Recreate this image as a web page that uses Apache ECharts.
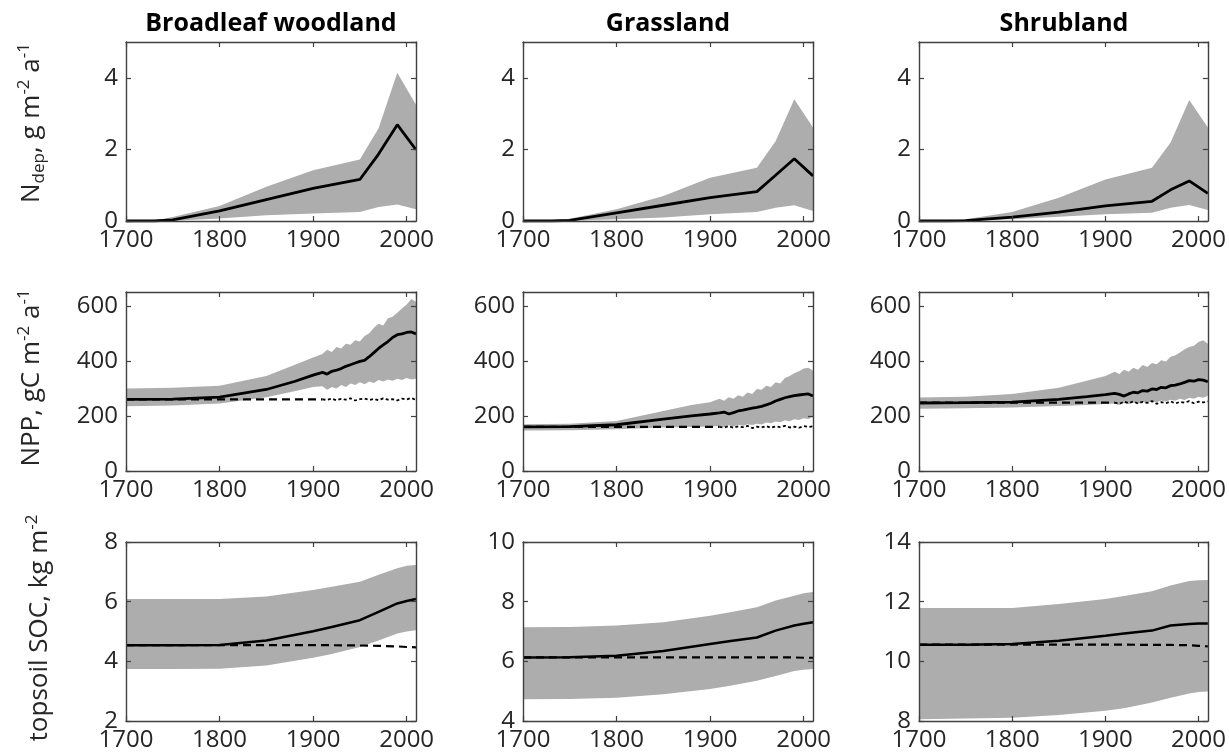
<!DOCTYPE html>
<html><head><meta charset="utf-8">
<script src="https://cdn.jsdelivr.net/npm/echarts@6/dist/echarts.min.js"></script>
<style>html,body{margin:0;padding:0;background:#fff}#c{width:1229px;height:756px}</style>
</head><body><div id="c"></div>
<script>
// ---------- DATA ----------
const columnTitles = ['Broadleaf woodland', 'Grassland', 'Shrubland'];
const xTickLabels = [1700, 1800, 1900, 2000];

// Row 1: N deposition
const ndepYears = [1700, 1730, 1750, 1800, 1850, 1900, 1950, 1970, 1990, 2010];
const ndepBroadMean  = [0, 0, 0.03, 0.28, 0.60, 0.91, 1.16, 1.87, 2.69, 1.99];
const ndepBroadUpper = [0, 0.01, 0.11, 0.42, 0.96, 1.42, 1.72, 2.59, 4.14, 3.25];
const ndepBroadLower = [0, 0, 0.01, 0.07, 0.16, 0.21, 0.25, 0.39, 0.46, 0.33];
const ndepGrassMean  = [0, 0, 0.02, 0.23, 0.44, 0.65, 0.82, 1.28, 1.74, 1.26];
const ndepGrassUpper = [0, 0.01, 0.06, 0.33, 0.70, 1.21, 1.49, 2.23, 3.40, 2.61];
const ndepGrassLower = [0, 0, 0.01, 0.05, 0.10, 0.19, 0.25, 0.37, 0.44, 0.28];
const ndepShrubMean  = [0, 0, 0.01, 0.11, 0.25, 0.42, 0.55, 0.87, 1.12, 0.77];
const ndepShrubUpper = [0, 0.01, 0.05, 0.25, 0.65, 1.16, 1.49, 2.19, 3.38, 2.61];
const ndepShrubLower = [0, 0, 0.01, 0.05, 0.12, 0.19, 0.23, 0.37, 0.45, 0.31];

// Row 2: NPP
const nppYears = [1700, 1750, 1800, 1850, 1880, 1900, 1910, 1915, 1920, 1925, 1930, 1935, 1940, 1945,
                  1950, 1955, 1960, 1965, 1970, 1975, 1980, 1985, 1990, 1995, 2000, 2005, 2010];
const nppBroadMean  = [260, 261, 268, 296, 325, 348, 358, 352, 362, 366, 372, 380, 386, 392,
                       398, 402, 415, 430, 445, 458, 470, 485, 495, 498, 503, 505, 498];
const nppBroadUpper = [300, 302, 310, 345, 385, 412, 425, 440, 432, 450, 445, 462, 458, 475,
                       470, 490, 500, 520, 535, 528, 555, 560, 575, 590, 605, 625, 615];
const nppBroadLower = [235, 238, 245, 268, 290, 305, 308, 295, 305, 300, 312, 305, 318, 312,
                       322, 315, 325, 320, 330, 325, 332, 328, 335, 330, 338, 332, 335];
const nppGrassMean  = [160, 161, 168, 188, 200, 207, 211, 214, 207, 212, 218, 221, 225, 228,
                       231, 235, 240, 246, 254, 260, 266, 270, 274, 276, 278, 280, 272];
const nppGrassUpper = [170, 172, 182, 218, 240, 250, 262, 255, 268, 262, 275, 270, 285, 280,
                       298, 295, 310, 305, 322, 318, 338, 345, 355, 362, 372, 375, 365];
const nppGrassLower = [147, 148, 152, 158, 160, 162, 163, 160, 166, 162, 168, 164, 170, 167,
                       172, 169, 176, 173, 180, 177, 184, 181, 188, 185, 192, 189, 196];
const nppShrubMean  = [247, 248, 250, 260, 270, 277, 282, 278, 272, 280, 286, 284, 292, 290,
                       298, 296, 304, 302, 310, 312, 316, 322, 328, 326, 332, 330, 324];
const nppShrubUpper = [267, 270, 280, 302, 328, 345, 360, 352, 368, 360, 375, 368, 385, 378,
                       392, 388, 402, 398, 415, 420, 430, 442, 450, 455, 468, 475, 462];
const nppShrubLower = [226, 228, 231, 236, 240, 243, 245, 240, 247, 242, 249, 244, 251, 246,
                       253, 249, 256, 252, 259, 255, 262, 258, 266, 262, 270, 266, 273];
// no-change baseline: dashed before 1910, dotted afterwards
const nppBaseYears = [1700, 1910];
const nppBroadBase = [260, 260];
const nppGrassBase = [160, 160];
const nppShrubBase = [248, 248];
const nppDotYears = [1910, 1915, 1920, 1925, 1930, 1935, 1940, 1945, 1950, 1955, 1960,
                     1965, 1970, 1975, 1980, 1985, 1990, 1995, 2000, 2005, 2010];
const nppBroadDot = [260, 258, 263, 257, 262, 259, 264, 256, 261, 263, 258, 262, 257, 264, 259, 261, 256, 263, 260, 265, 258];
const nppGrassDot = [160, 158, 163, 157, 162, 159, 164, 156, 161, 158, 163, 157, 162, 159, 164, 158, 161, 157, 163, 160, 162];
const nppShrubDot = [248, 244, 252, 246, 253, 245, 251, 247, 254, 244, 250, 246, 253, 245, 251, 248, 254, 246, 252, 249, 253];

// Row 3: topsoil SOC
const socYears = [1700, 1750, 1800, 1850, 1900, 1920, 1950, 1970, 1990, 2000, 2010];
const socBroadMean  = [4.54, 4.54, 4.55, 4.70, 5.01, 5.15, 5.38, 5.66, 5.94, 6.02, 6.09];
const socBroadUpper = [6.09, 6.09, 6.09, 6.17, 6.39, 6.50, 6.67, 6.90, 7.12, 7.20, 7.23];
const socBroadLower = [3.74, 3.74, 3.75, 3.86, 4.12, 4.25, 4.48, 4.70, 4.93, 5.00, 5.04];
const socBroadBase  = [4.54, 4.54, 4.54, 4.54, 4.54, 4.54, 4.53, 4.52, 4.50, 4.48, 4.47];
const socGrassMean  = [6.13, 6.14, 6.19, 6.35, 6.58, 6.67, 6.80, 7.03, 7.20, 7.26, 7.31];
const socGrassUpper = [7.14, 7.15, 7.20, 7.31, 7.53, 7.64, 7.81, 8.04, 8.20, 8.28, 8.32];
const socGrassLower = [4.73, 4.74, 4.78, 4.90, 5.07, 5.17, 5.35, 5.51, 5.68, 5.72, 5.74];
const socGrassBase  = [6.13, 6.13, 6.13, 6.13, 6.13, 6.13, 6.13, 6.13, 6.13, 6.12, 6.12];
const socShrubMean  = [10.56, 10.56, 10.58, 10.69, 10.86, 10.93, 11.03, 11.20, 11.25, 11.27, 11.27];
const socShrubUpper = [11.79, 11.79, 11.79, 11.92, 12.09, 12.19, 12.35, 12.54, 12.69, 12.72, 12.73];
const socShrubLower = [8.06, 8.08, 8.11, 8.20, 8.34, 8.43, 8.62, 8.78, 8.92, 8.97, 8.99];
const socShrubBase  = [10.56, 10.56, 10.56, 10.56, 10.56, 10.56, 10.55, 10.55, 10.54, 10.52, 10.50];

// axis ranges [min, max, interval]
const ndepRange = [0, 5, 2];
const nppRange = [0, 650, 200];
const socBroadRange = [2, 8, 2];
const socGrassRange = [4, 10, 2];
const socShrubRange = [8, 14, 2];
const xRange = [1700, 2010, 100];

// ---------- LAYOUT ----------
const colLeft = [126, 523, 919];
const rowTop = [42, 292, 542];
const plotW = 290, plotH = 179;
const FONT = 'Open Sans';
const TXT = '#262626';
const AX = '#404040';
const BAND = '#adadad';

const panels = [
  {r:0,c:0,yr:ndepRange,years:ndepYears,mean:ndepBroadMean,up:ndepBroadUpper,lo:ndepBroadLower,lw:2.8},
  {r:0,c:1,yr:ndepRange,years:ndepYears,mean:ndepGrassMean,up:ndepGrassUpper,lo:ndepGrassLower,lw:2.8},
  {r:0,c:2,yr:ndepRange,years:ndepYears,mean:ndepShrubMean,up:ndepShrubUpper,lo:ndepShrubLower,lw:2.8},
  {r:1,c:0,yr:nppRange,years:nppYears,mean:nppBroadMean,up:nppBroadUpper,lo:nppBroadLower,lw:2.8,
    baseX:nppBaseYears,base:nppBroadBase,dotX:nppDotYears,dot:nppBroadDot},
  {r:1,c:1,yr:nppRange,years:nppYears,mean:nppGrassMean,up:nppGrassUpper,lo:nppGrassLower,lw:2.8,
    baseX:nppBaseYears,base:nppGrassBase,dotX:nppDotYears,dot:nppGrassDot},
  {r:1,c:2,yr:nppRange,years:nppYears,mean:nppShrubMean,up:nppShrubUpper,lo:nppShrubLower,lw:2.8,
    baseX:nppBaseYears,base:nppShrubBase,dotX:nppDotYears,dot:nppShrubDot},
  {r:2,c:0,yr:socBroadRange,years:socYears,mean:socBroadMean,up:socBroadUpper,lo:socBroadLower,lw:2.5,
    baseX:socYears,base:socBroadBase},
  {r:2,c:1,yr:socGrassRange,years:socYears,mean:socGrassMean,up:socGrassUpper,lo:socGrassLower,lw:2.5,
    baseX:socYears,base:socGrassBase},
  {r:2,c:2,yr:socShrubRange,years:socYears,mean:socShrubMean,up:socShrubUpper,lo:socShrubLower,lw:2.5,
    baseX:socYears,base:socShrubBase}
];

const zip = (xs, ys) => xs.map((x, i) => [x, ys[i]]);
const grids = [], xAxes = [], yAxes = [], series = [];

panels.forEach((p, i) => {
  grids.push({left: colLeft[p.c], top: rowTop[p.r], width: plotW, height: plotH, containLabel: false});
  const tick = {show: true, inside: true, length: 5, lineStyle: {color: AX, width: 1.2}};
  const line = {show: true, onZero: false, lineStyle: {color: AX, width: 1.4}};
  const lbl = {color: TXT, fontFamily: FONT, fontSize: 24};
  xAxes.push({type: 'value', gridIndex: i, position: 'bottom', min: xRange[0], max: xRange[1], interval: xRange[2],
    axisLine: line, axisTick: tick, splitLine: {show: false}, z: 5,
    axisLabel: Object.assign({margin: 7, showMaxLabel: false, formatter: v => xTickLabels.indexOf(v) >= 0 ? String(v) : ''}, lbl)});
  xAxes.push({type: 'value', gridIndex: i, position: 'top', min: xRange[0], max: xRange[1], interval: xRange[2],
    axisLine: line, axisTick: tick, splitLine: {show: false}, axisLabel: {show: false}, z: 5});
  const showMax = p.r === 2;
  yAxes.push({type: 'value', gridIndex: i, position: 'left', min: p.yr[0], max: p.yr[1], interval: p.yr[2],
    axisLine: line, axisTick: tick, splitLine: {show: false}, z: 5,
    axisLabel: Object.assign({margin: 8, showMaxLabel: showMax, formatter: v => String(v)}, lbl)});
  yAxes.push({type: 'value', gridIndex: i, position: 'right', min: p.yr[0], max: p.yr[1], interval: p.yr[2],
    axisLine: line, axisTick: tick, splitLine: {show: false}, axisLabel: {show: false}, z: 5});

  const xi = 2 * i, yi = 2 * i;
  // uncertainty band: polygon through upper values then back through lower values
  const bandData = p.years.map((x, k) => [x, p.lo[k], p.up[k]]);
  series.push({type: 'custom', xAxisIndex: xi, yAxisIndex: yi, silent: true, z: 1,
    encode: {x: 0, y: [1, 2]}, data: bandData,
    renderItem: (params, api) => {
      if (params.dataIndex !== 0) return null;
      const pts = [];
      bandData.forEach(d => pts.push(api.coord([d[0], d[2]])));
      for (let k = bandData.length - 1; k >= 0; k--) pts.push(api.coord([bandData[k][0], bandData[k][1]]));
      return {type: 'polygon', shape: {points: pts}, style: {fill: BAND, stroke: null}};
    }});
  if (p.base) {
    series.push({type: 'line', xAxisIndex: xi, yAxisIndex: yi, symbol: 'none', silent: true,
      lineStyle: {color: '#000', width: 2.2, type: [8, 5]}, data: zip(p.baseX, p.base), z: 2});
  }
  if (p.dot) {
    series.push({type: 'line', xAxisIndex: xi, yAxisIndex: yi, symbol: 'none', silent: true,
      lineStyle: {color: '#000', width: 1.8, type: [3, 2.5]}, data: zip(p.dotX, p.dot), z: 2});
  }
  series.push({type: 'line', xAxisIndex: xi, yAxisIndex: yi, symbol: 'none', silent: true,
    lineStyle: {color: '#000', width: p.lw}, data: zip(p.years, p.mean), z: 3});
});

const yLabRich = {
  n: {fontFamily: FONT, fontSize: 26, color: TXT, lineHeight: 32},
  sup: {fontFamily: FONT, fontSize: 17, color: TXT, lineHeight: 18, verticalAlign: 'top'},
  sub: {fontFamily: FONT, fontSize: 17, color: TXT, lineHeight: 18, verticalAlign: 'bottom'}
};
const yLabels = [
  {text: '{n|N}{sub|dep}{n|, g m}{sup|-2}{n| a}{sup|-1}', x: 32, y: 123},
  {text: '{n|NPP, gC m}{sup|-2}{n| a}{sup|-1}', x: 32, y: 378},
  {text: '{n|topsoil SOC, kg m}{sup|-2}', x: 40, y: 628}
];
const graphics = [];
columnTitles.forEach((t, c) => {
  graphics.push({type: 'text', x: colLeft[c] + plotW / 2, y: 24, silent: true,
    style: {text: t, fontFamily: FONT, fontSize: 25, fontWeight: 'bold', fill: '#000',
      align: 'center', verticalAlign: 'middle'}});
});
yLabels.forEach(l => {
  graphics.push({type: 'text', x: l.x, y: l.y, rotation: Math.PI / 2, silent: true,
    style: {text: l.text, rich: yLabRich, fill: TXT, align: 'center', verticalAlign: 'middle'}});
});

const chart = echarts.init(document.getElementById('c'), null, {renderer: 'canvas'});
chart.setOption({
  animation: false,
  backgroundColor: '#fff',
  grid: grids, xAxis: xAxes, yAxis: yAxes, series: series, graphic: graphics
});
</script></body></html>
